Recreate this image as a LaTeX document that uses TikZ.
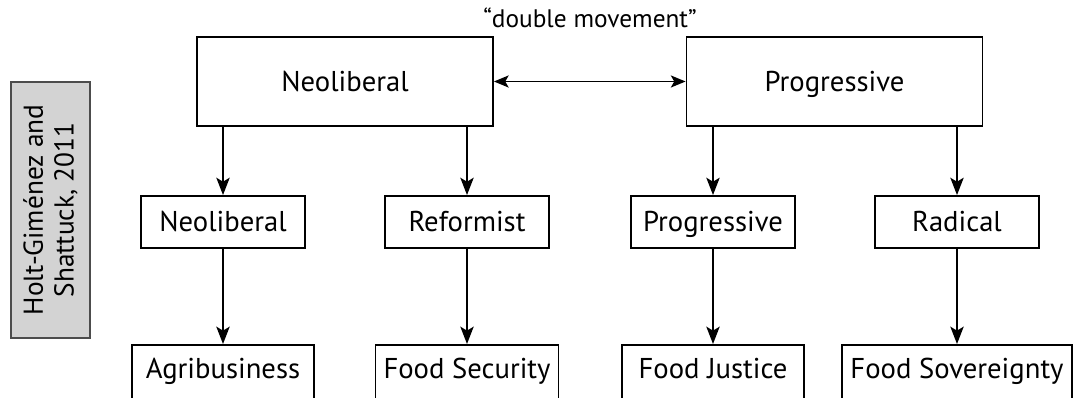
\documentclass[tikz,border=0pt]{standalone}
\usepackage{fontspec}
\setmainfont{PT Sans}
\usetikzlibrary{arrows.meta}
\definecolor{notegray}{RGB}{211,211,211}
\tikzset{
  box/.style={draw, line width=1.4pt, inner sep=0pt, text height=20.4pt, text depth=5.4pt,
    font=\fontsize{21.5}{24}\selectfont},
  bigbox/.style={box, minimum width=222pt, minimum height=66.75pt},
  midbox/.style={box, minimum width=123pt, minimum height=39pt},
  lowbox/.style={box, minimum height=45pt, anchor=north},
  arr/.style={line width=1.4pt, -{Stealth[length=13pt, width=10pt, inset=3pt]}},
}
\begin{document}
\begin{tikzpicture}[x=0.75pt, y=-0.75pt]
\useasboundingbox (0,0) rectangle (1074,398);

% reference note
\node[draw=black!70, line width=0.8pt, fill=notegray, rotate=90, align=center,
  minimum width=192pt, minimum height=59.25pt, inner sep=0pt,
  font=\fontsize{20.5}{23}\selectfont] (note) at (50.5,210) {Holt-Giménez and\\Shattuck, 2011};

% top level
\node[bigbox] (neo) at (345,81.5) {Neoliberal};
\node[bigbox] (prog) at (834.5,81.5) {Progressive};
\draw[line width=1.4pt, {Stealth[length=11pt, width=9pt, inset=2.5pt]}-{Stealth[length=11pt, width=9pt, inset=2.5pt]}] (neo) -- (prog);
\node[font=\fontsize{19}{22}\selectfont] (dm) at (590,18) {“double movement”};

% middle level
\node[midbox] (neo2) at (223,222) {Neoliberal};
\node[midbox] (ref) at (467,222) {Reformist};
\node[midbox] (prog2) at (713,222) {Progressive};
\node[midbox] (rad) at (957,222) {Radical};

% bottom level
\node[lowbox, minimum width=136.5pt] (agri) at (223,344) {\raisebox{4.5pt}{Agribusiness}};
\node[lowbox, minimum width=137.25pt] (sec) at (467,344) {\raisebox{4.5pt}{Food Security}};
\node[lowbox, minimum width=136.5pt] (just) at (713,344) {\raisebox{4.5pt}{Food Justice}};
\node[lowbox, minimum width=172.5pt] (sov) at (957,344) {\raisebox{4.5pt}{Food Sovereignty}};

% connectors
\draw[arr] (neo.south -| neo2) -- (neo2);
\draw[arr] (neo.south -| ref) -- (ref);
\draw[arr] (prog.south -| prog2) -- (prog2);
\draw[arr] (prog.south -| rad) -- (rad);
\draw[arr] (neo2) -- (agri);
\draw[arr] (ref) -- (sec);
\draw[arr] (prog2) -- (just);
\draw[arr] (rad) -- (sov);
\end{tikzpicture}
\end{document}
